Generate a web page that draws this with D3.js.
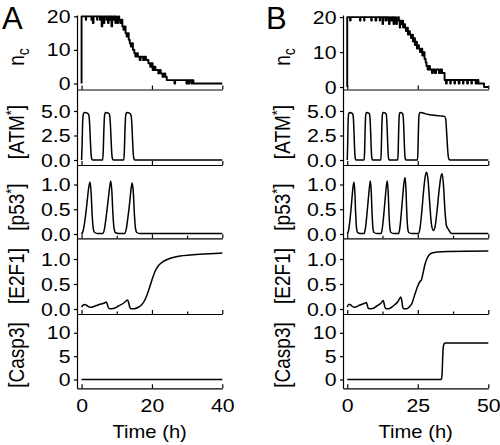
<!DOCTYPE html>
<html><head><meta charset="utf-8">
<script src="https://cdn.jsdelivr.net/npm/d3@7/dist/d3.min.js"></script>
<style>body{margin:0;background:#fff}svg{display:block}</style>
</head><body><svg id="c" width="500" height="445"></svg>
<script>
// ---------------- DATA ----------------
const xTicksA = [0, 20, 40];
const xMinorA = [10, 30];
const xTicksB = [0, 25, 50];
const xMinorB = [12.5, 37.5];

const ncTicks = [0, 10, 20];
const atmTicks = [0, 2.5, 5];
const p53Ticks = [0, 0.5, 1];
const e2f1Ticks = [0, 0.5, 1];
const casp3Ticks = [0, 5, 10];

// number of cycling cells (step data)  [time h, n]
const ncA = [[0,0],[0,20],[1.2,19],[1.3,20],[2.8,19],[3,20],[3.2,18],[3.4,20],[4.4,19],[4.5,20],[5.2,19],[5.4,20],[5.7,17],[5.9,20],[6.2,18],[6.5,20],[7.1,19],[7.3,20],[7.5,18],[7.7,20],[8.1,19],[8.2,20],[8.5,17],[8.7,20],[9,19],[9.3,20],[9.6,18],[9.7,20],[9.9,19],[10.2,18],[10.4,20],[10.7,19],[11,18],[11.3,19],[11.6,17],[11.9,16],[12.2,17],[12.5,15],[12.8,14],[13.1,15],[13.4,13],[13.7,12],[14,11],[14.3,12],[14.6,10],[15,9],[15.3,8],[15.7,9],[16,8],[16.5,7],[16.8,8],[17.5,7],[17.8,8],[18.3,7],[19,6],[19.5,5],[19.9,6],[20.2,4],[20.6,5],[21,4],[21.8,3],[22.2,4],[22.5,3],[23,2],[23.5,3],[23.8,2],[24.2,1],[26.4,0],[26.6,1],[29.8,0],[30,1],[30.4,0],[30.6,1],[31.2,0],[31.4,1],[31.8,0],[40,0]];
const ncB = [[0,0],[0,20],[1,19],[1.2,20],[4.5,19],[4.7,20],[6,19],[6.1,20],[8.5,19],[8.7,20],[10,19],[10.3,20],[11.5,19],[11.7,20],[12.5,18],[12.7,20],[13.5,19],[13.8,20],[14.5,19],[14.8,18],[15,20],[15.5,19],[16,20],[16.4,18],[16.6,19],[17,20],[17.3,18],[17.6,19],[18,20],[18.3,19],[18.6,17],[18.8,19],[19.2,18],[19.5,19],[19.8,17],[20.1,18],[20.5,17],[20.8,16],[21.1,17],[21.5,15],[21.8,16],[22.2,15],[22.6,14],[22.9,15],[23.3,13],[23.6,14],[24,12],[24.3,13],[24.7,11],[25,12],[25.4,11],[25.8,10],[26.2,11],[26.6,9],[27,10],[27.4,8],[27.8,7],[28.1,6],[28.5,5],[29,6],[29.3,5],[30,4],[30.3,5],[31,4],[31.5,5],[32.5,4],[33,5],[33.6,4],[34.5,2],[35,1],[35.3,2],[36.5,1],[36.7,2],[38,1],[38.2,2],[39.5,1],[39.8,2],[41,1],[41.2,2],[42.5,1],[42.8,2],[44,1],[44.2,2],[45.5,1],[46,2],[46.5,1],[48.5,0],[50,0]];

// [ATM*]
const atmA = [[0,0],[0.15,1.5],[0.3,3.8],[0.5,4.7],[0.8,4.84],[1.3,4.82],[1.8,4.74],[2.1,4.5],[2.3,3.6],[2.5,2.0],[2.7,0.6],[2.9,0.1],[3.1,0.01],
 [6.0,0.01],[6.15,0.8],[6.35,3.2],[6.55,4.6],[6.8,4.84],[7.3,4.82],[7.8,4.74],[8.0,4.5],[8.2,3.6],[8.4,2.0],[8.6,0.6],[8.8,0.1],[9.0,0.01],
 [12.0,0.01],[12.15,0.8],[12.35,3.2],[12.55,4.6],[12.8,4.84],[13.3,4.82],[13.8,4.74],[14.1,4.5],[14.3,3.6],[14.5,2.0],[14.7,0.6],[14.9,0.1],[15.1,0.01],[40,0.01]];
const atmB = [[0,0],[0.15,1.5],[0.3,3.8],[0.5,4.7],[0.8,4.84],[1.3,4.82],[1.8,4.74],[2.1,4.5],[2.3,3.6],[2.5,2.0],[2.7,0.6],[2.9,0.1],[3.1,0.01],
 [6.0,0.01],[6.15,0.8],[6.35,3.2],[6.55,4.6],[6.8,4.84],[7.3,4.82],[7.8,4.74],[8.0,4.5],[8.2,3.6],[8.4,2.0],[8.6,0.6],[8.8,0.1],[9.0,0.01],
 [11.9,0.01],[12.05,0.8],[12.25,3.2],[12.45,4.6],[12.7,4.84],[13.2,4.82],[13.7,4.74],[13.9,4.5],[14.1,3.6],[14.3,2.0],[14.5,0.6],[14.7,0.1],[14.9,0.01],
 [17.9,0.01],[18.05,0.8],[18.25,3.2],[18.45,4.6],[18.7,4.84],[19.2,4.82],[19.6,4.74],[19.8,4.5],[20.0,3.6],[20.2,2.0],[20.4,0.6],[20.6,0.1],[20.8,0.01],
 [24.9,0.01],[25.05,0.8],[25.25,3.2],[25.45,4.6],[25.8,4.84],[26.6,4.82],[27.5,4.74],[28.5,4.66],[30,4.58],[31.5,4.53],[33,4.5],[34.5,4.45],[34.9,4.2],[35.2,3.0],[35.5,1.5],[35.8,0.4],[36.1,0.05],[36.4,0.01],[50,0.01]];

// [p53*]
const p53A = [[0,0],[0.5,0.08],[1.0,0.3],[1.5,0.6],[2.0,0.92],[2.4,1.05],[2.7,0.85],[3.0,0.4],[3.3,0.12],[3.7,0.03],[4.5,0.01],
 [6.0,0.01],[6.5,0.1],[7.0,0.35],[7.5,0.65],[8.0,0.95],[8.3,1.07],[8.6,0.87],[8.9,0.42],[9.2,0.13],[9.6,0.03],[10.5,0.01],
 [12.2,0.01],[12.7,0.1],[13.2,0.35],[13.7,0.65],[14.1,0.93],[14.4,1.03],[14.7,0.85],[15.0,0.42],[15.3,0.13],[15.7,0.03],[16.5,0.01],[40,0.01]];
const p53B = [[0,0],[0.5,0.08],[1.0,0.3],[1.5,0.6],[2.0,0.92],[2.4,1.05],[2.7,0.85],[3.0,0.4],[3.3,0.12],[3.7,0.03],[4.5,0.01],
 [6.0,0.01],[6.4,0.1],[6.9,0.35],[7.4,0.66],[7.9,0.96],[8.2,1.07],[8.5,0.87],[8.8,0.42],[9.1,0.13],[9.5,0.03],[10.5,0.01],
 [12.0,0.01],[12.4,0.1],[12.9,0.36],[13.4,0.68],[13.9,0.98],[14.2,1.07],[14.5,0.87],[14.8,0.42],[15.1,0.13],[15.5,0.03],[16.5,0.01],
 [18.2,0.01],[18.6,0.1],[19.1,0.38],[19.6,0.72],[20.1,1.03],[20.5,1.14],[20.8,0.92],[21.1,0.45],[21.4,0.14],[21.8,0.03],[22.8,0.01],
 [25.2,0.01],[25.8,0.12],[26.5,0.5],[27.2,0.95],[27.7,1.18],[28.1,1.25],[28.6,1.12],[29.2,0.65],[29.8,0.22],[30.5,0.07],[31.1,0.14],[31.8,0.45],[32.6,0.9],[33.2,1.16],[33.6,1.22],[34.1,1.0],[34.7,0.42],[35.2,0.16],[35.7,0.11],[36.2,0.06],[37.0,0.01],[50,0.01]];

// [E2F1]
const e2f1A = [[0,0.04],[0.5,0.08],[1.0,0.09],[1.5,0.07],[2.2,0.04],[2.8,0.035],[3.5,0.05],[5,0.09],[6.5,0.12],[7.0,0.14],[7.3,0.1],[7.6,0.03],[8.0,0.005],[9.0,0.01],[10.5,0.06],[12,0.12],[13.1,0.18],[13.4,0.12],[13.7,0.04],[14.0,0.005],[15,0.005],[16,0.03],[17,0.08],[18,0.18],[19,0.36],[20,0.58],[21,0.77],[22,0.88],[23,0.94],[24,0.98],[26,1.03],[28,1.06],[31,1.08],[35,1.1],[40,1.12]];
const e2f1B = [[0,0.04],[0.5,0.09],[1.0,0.09],[1.6,0.06],[2.4,0.035],[3.0,0.04],[4.5,0.08],[6.0,0.11],[6.8,0.13],[7.1,0.08],[7.4,0.02],[7.8,0.005],[9,0.01],[10.5,0.06],[12,0.12],[12.8,0.17],[13.1,0.1],[13.4,0.03],[13.8,0.005],[15,0.01],[16.5,0.07],[18,0.15],[19.0,0.24],[19.3,0.18],[19.6,0.06],[20.0,0.005],[21,0.005],[22,0.04],[23,0.12],[24,0.3],[25,0.46],[25.8,0.55],[26.3,0.58],[26.8,0.7],[27.5,0.88],[28.2,1.0],[29,1.08],[30,1.12],[32,1.14],[36,1.15],[50,1.16]];

// [Casp3]
const casp3A = [[0,0],[20,0],[40,0]];
const casp3B = [[0,0],[33.3,0],[33.6,1],[33.8,4],[34.0,6.8],[34.3,7.6],[34.8,7.8],[40,7.8],[50,7.8]];

// ---------------- DRAW ----------------
const FONT = '"Liberation Sans", Arial, Helvetica, sans-serif';
const SX = 1.12; // horizontal stretch of the reference's lettering
const svg = d3.select('#c');
const bands = [[15, 89.5], [89.5, 165], [165, 238.3], [238.3, 314], [314, 388.3]];
const fmt0 = d3.format('d'), fmt1 = d3.format('.1f');

function stretchTicks(g) {
  g.selectAll('text').each(function () {
    const el = d3.select(this);
    const x = +(el.attr('x') || 0), y = +(el.attr('y') || 0);
    el.attr('transform', `translate(${x},${y}) scale(${SX},1) translate(${-x},${-y})`);
  });
}

function drawColumn(cfg) {
  const x = d3.scaleLinear().domain(cfg.xDom).range(cfg.xRange);
  const x0 = cfg.xRange[0];
  cfg.panels.forEach((p, i) => {
    const b = bands[i];
    const y = d3.scaleLinear().domain(p.dom).range([b[1], b[0]]);
    // left axis
    const gl = svg.append('g').attr('transform', `translate(${x0},0)`)
      .call(d3.axisLeft(y).tickValues(p.ticks).tickFormat(p.fmt).tickSizeInner(3).tickSizeOuter(0).tickPadding(3.5));
    gl.attr('font-family', FONT).attr('font-size', 19);
    gl.selectAll('path,line').attr('stroke', '#000').attr('stroke-width', 1.2);
    gl.selectAll('text').attr('fill', '#000');
    stretchTicks(gl);
    // bottom axis
    const gb = svg.append('g').attr('transform', `translate(0,${b[1]})`)
      .call(d3.axisBottom(x).tickValues(cfg.xTicks).tickFormat(i === 4 ? fmt0 : () => '').tickSizeInner(-4).tickSizeOuter(0).tickPadding(10));
    gb.attr('font-family', FONT).attr('font-size', 19);
    gb.selectAll('path,line').attr('stroke', '#000').attr('stroke-width', 1.2);
    gb.selectAll('text').attr('fill', '#000');
    stretchTicks(gb);
    if (p.minor) {
      const gm = svg.append('g').attr('transform', `translate(0,${b[1]})`)
        .call(d3.axisBottom(x).tickValues(cfg.xMinor).tickFormat(() => '').tickSizeInner(-2.5).tickSizeOuter(0));
      gm.select('.domain').remove();
      gm.selectAll('line').attr('stroke', '#000').attr('stroke-width', 1.2);
    }
    // data
    const line = d3.line().x(d => x(d[0])).y(d => y(d[1])).curve(p.curve);
    svg.append('path').datum(p.data).attr('d', line)
      .attr('fill', 'none').attr('stroke', '#000').attr('stroke-width', p.sw || 1.5)
      .attr('stroke-linejoin', 'round');
    // y label
    const t = svg.append('text')
      .attr('transform', `translate(${x0 - 60},${p.labelY}) scale(${SX},1) rotate(-90)`)
      .attr('text-anchor', 'middle').attr('dy', '0.35em')
      .attr('font-family', FONT).attr('font-size', 19).attr('fill', '#000');
    p.label(t);
  });
  // x title
  const cx = (cfg.xRange[0] + cfg.xRange[1]) / 2;
  svg.append('text').attr('transform', `translate(${cx},437.5) scale(${SX},1)`)
    .attr('text-anchor', 'middle').attr('font-family', FONT).attr('font-size', 18).attr('fill', '#000').text('Time (h)');
  // panel letter
  svg.append('text').attr('x', cfg.letterX).attr('y', 29)
    .attr('font-family', FONT).attr('font-size', 31).attr('fill', '#000').text(cfg.letter);
}

const lblNc = t => { t.append('tspan').text('n'); t.append('tspan').attr('font-size', 14).attr('dy', '0.3em').text('c'); };
const lblSup = name => t => { t.append('tspan').text('[' + name); t.append('tspan').attr('font-size', 13).attr('dy', '-0.55em').text('*'); t.append('tspan').attr('dy', '0.3em').text(']'); };
const lblPlain = s => t => t.text(s);

function panelsFor(nc, ncDom, atm, p53, e2f1, casp3) {
  return [
    {data: nc, dom: ncDom, ticks: ncTicks, fmt: fmt0, curve: d3.curveStepAfter, minor: false, label: lblNc, labelY: 57, sw: 1.9},
    {data: atm, dom: [-0.51, 7.19], ticks: atmTicks, fmt: fmt1, curve: d3.curveMonotoneX, minor: false, label: lblSup('ATM'), labelY: 132},
    {data: p53, dom: [-0.087, 1.394], ticks: p53Ticks, fmt: fmt1, curve: d3.curveMonotoneX, minor: true, label: lblSup('p53'), labelY: 207},
    {data: e2f1, dom: [-0.1, 1.414], ticks: e2f1Ticks, fmt: fmt1, curve: d3.curveMonotoneX, minor: true, label: lblPlain('[E2F1]'), labelY: 276},
    {data: casp3, dom: [-1.88, 14.02], ticks: casp3Ticks, fmt: fmt0, curve: d3.curveMonotoneX, minor: false, label: lblPlain('[Casp3]'), labelY: 355}
  ];
}

drawColumn({xDom: [-1.3, 40], xRange: [77, 222.3], xTicks: xTicksA, xMinor: xMinorA, letter: 'A', letterX: 2,
  panels: panelsFor(ncA, [-1.8, 20.4], atmA, p53A, e2f1A, casp3A)});
drawColumn({xDom: [-1.5, 50], xRange: [343, 488.3], xTicks: xTicksB, xMinor: xMinorB, letter: 'B', letterX: 266,
  panels: panelsFor(ncB, [-0.7, 20.6], atmB, p53B, e2f1B, casp3B)});
</script>
</body></html>
